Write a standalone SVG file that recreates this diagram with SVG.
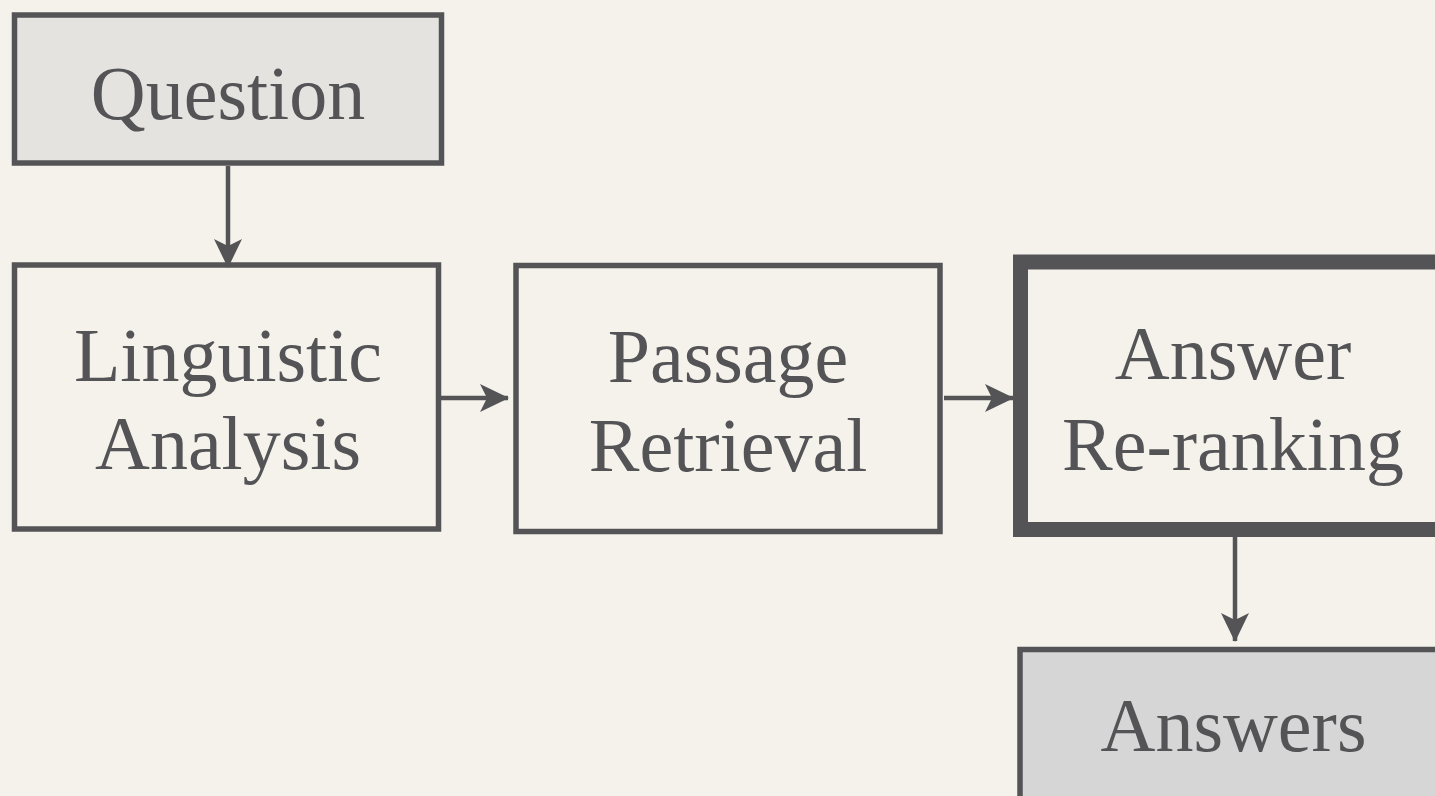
<svg xmlns="http://www.w3.org/2000/svg" width="1435" height="796" viewBox="0 0 1435 796">
<style>
.box{stroke:#545457;stroke-width:5.5;fill:none}
.lbl{font-family:"Liberation Serif","DejaVu Serif",serif;font-size:76px;fill:#545457;text-anchor:middle}
.edge{stroke:#545457;stroke-width:4.5;fill:none}
</style>
<defs>
<marker id="ah" viewBox="0 0 30 30" refX="28" refY="15" markerWidth="30" markerHeight="30" markerUnits="userSpaceOnUse" orient="auto">
<path d="M0,1 L29,15 L0,29 L7,15 Z" fill="#545457"/>
</marker>
</defs>
<rect width="1435" height="796" fill="#f5f2ec"/>
<g id="question">
<rect class="box" x="14.5" y="15" width="427" height="148" style="fill:#e4e3df"/>
<text class="lbl" x="228" y="119">Question</text>
</g>
<g id="linguistic">
<rect class="box" x="14.5" y="265" width="424" height="264"/>
<text class="lbl" x="228" y="381">Linguistic</text>
<text class="lbl" x="228" y="469">Analysis</text>
</g>
<g id="passage">
<rect class="box" x="516" y="265.5" width="424" height="266"/>
<text class="lbl" x="728" y="382">Passage</text>
<text class="lbl" x="728" y="471">Retrieval</text>
</g>
<g id="reranking">
<rect x="1020.5" y="262" width="430" height="267.5" fill="none" stroke="#545457" stroke-width="15"/>
<text class="lbl" x="1233" y="379">Answer</text>
<text class="lbl" x="1233" y="470">Re-ranking</text>
</g>
<g id="answers">
<rect class="box" x="1020" y="649.5" width="430" height="170" style="fill:#d6d6d6"/>
<text class="lbl" x="1233.5" y="751">Answers</text>
</g>
<g id="connectors">
<line class="edge" x1="228" y1="166" x2="228" y2="267" marker-end="url(#ah)"/>
<line class="edge" x1="441" y1="398" x2="508" y2="398" marker-end="url(#ah)"/>
<line class="edge" x1="944" y1="398" x2="1013" y2="398" marker-end="url(#ah)"/>
<line class="edge" x1="1235" y1="537" x2="1235" y2="641" marker-end="url(#ah)"/>
</g>
</svg>
